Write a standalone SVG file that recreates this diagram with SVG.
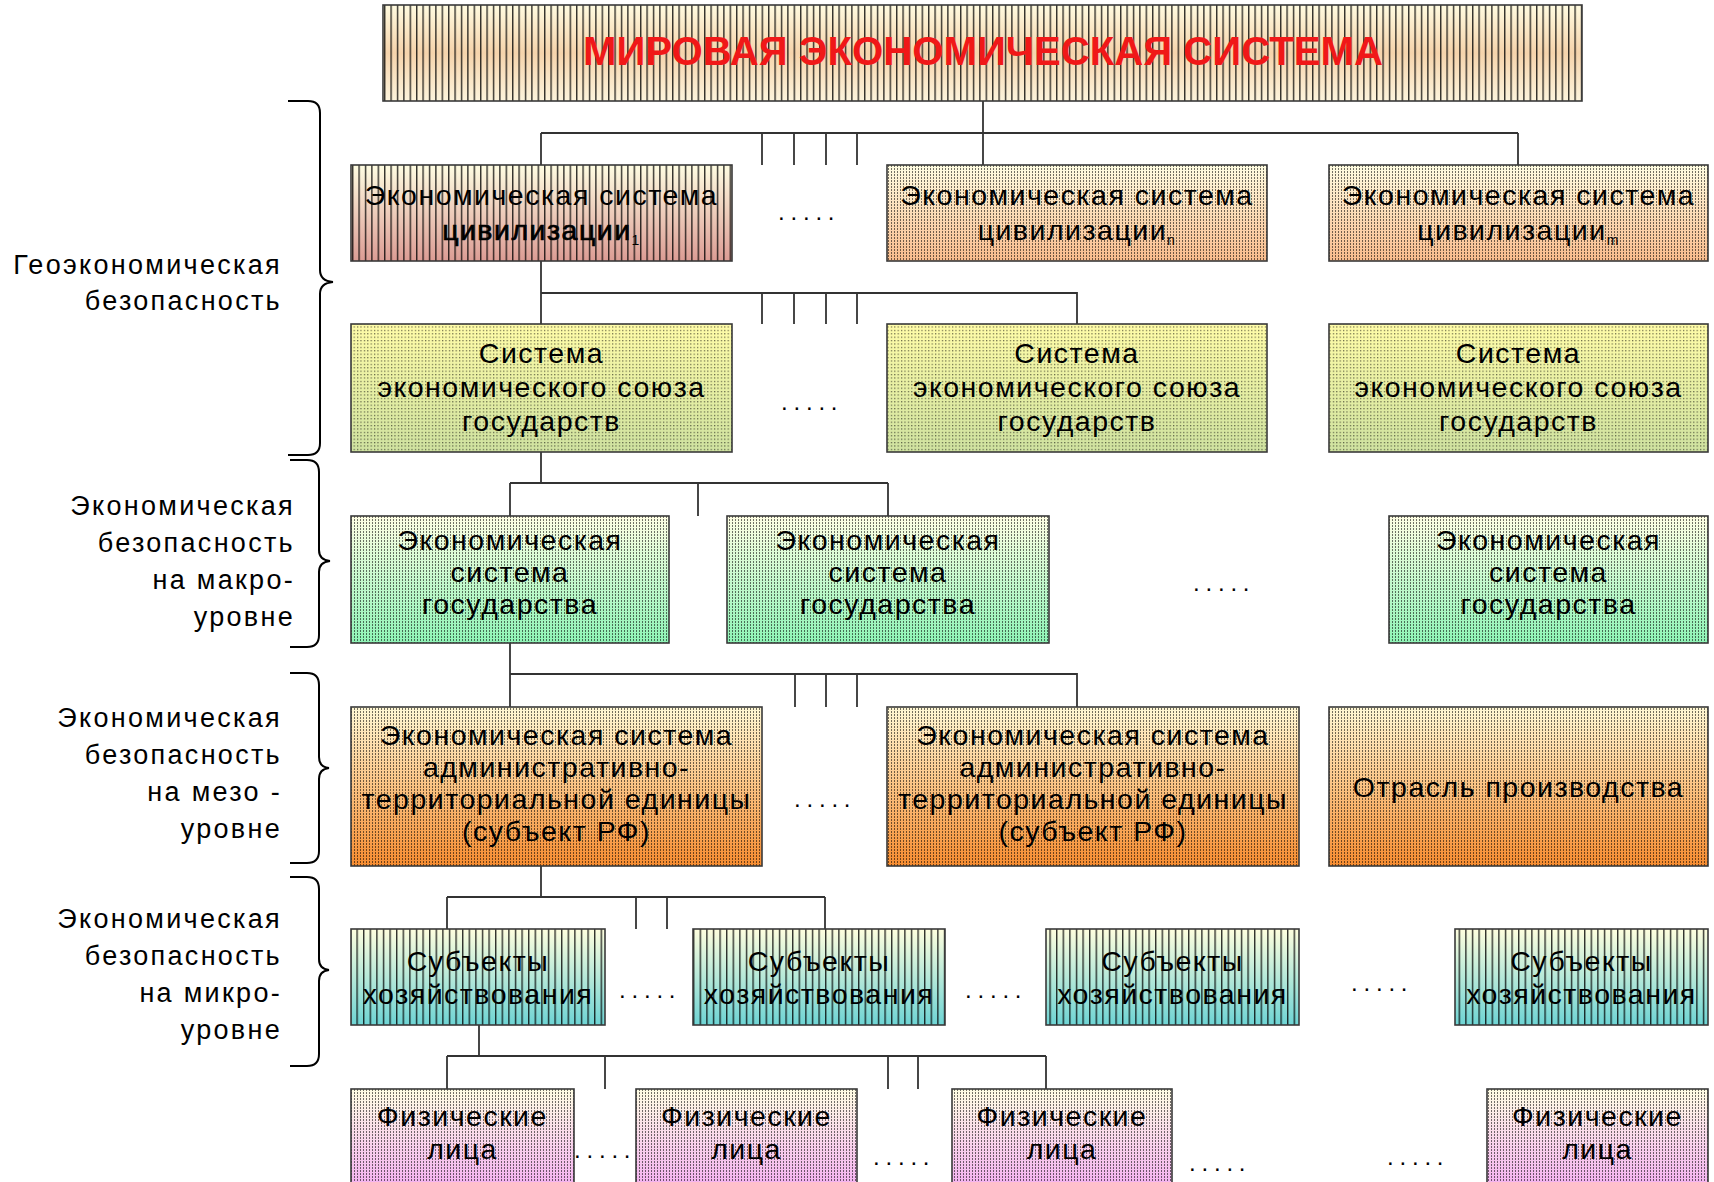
<svg xmlns="http://www.w3.org/2000/svg" width="1714" height="1182" viewBox="0 0 1714 1182">
<defs>
<style>
.bx{stroke:#3a3a3a;stroke-width:1.6}
.t{font-family:"Liberation Sans",Arial,sans-serif;font-size:28.5px;letter-spacing:1.5px;text-anchor:middle;fill:#000}
.lbl{font-family:"Liberation Sans",Arial,sans-serif;font-size:27px;letter-spacing:2.3px;text-anchor:end;fill:#000}
.dots{font-family:"Liberation Sans",Arial,sans-serif;font-size:24px;letter-spacing:5.8px;fill:#000}
.c{stroke:#333;stroke-width:1.8;fill:none}
.br{stroke:#000;stroke-width:2;fill:none}
</style>
<pattern id="pV" width="6.4" height="10" patternUnits="userSpaceOnUse"><rect x="0" y="0" width="1.4" height="10" fill="#000" fill-opacity="0.8"/></pattern>
<pattern id="pV2" width="6.6" height="10" patternUnits="userSpaceOnUse"><rect x="0" y="0" width="1.4" height="10" fill="#000" fill-opacity="0.8"/></pattern>
<pattern id="pF" width="3" height="3" patternUnits="userSpaceOnUse"><rect x="0" y="0" width="1" height="2" fill="#000" fill-opacity="0.55"/></pattern>
<pattern id="pD" width="3.4" height="3.4" patternUnits="userSpaceOnUse"><rect x="0" y="0" width="1.2" height="1.2" fill="#000" fill-opacity="0.6"/></pattern>
<linearGradient id="gTop" x1="0" y1="0" x2="0" y2="1"><stop offset="0" stop-color="#fffbe0"/><stop offset="0.5" stop-color="#f6d4ac"/><stop offset="1" stop-color="#fdf4dc"/></linearGradient>
<linearGradient id="gCiv1" x1="0" y1="0" x2="0" y2="1"><stop offset="0" stop-color="#fffde2"/><stop offset="1" stop-color="#dc9c94"/></linearGradient>
<linearGradient id="gCiv" x1="0" y1="0" x2="0" y2="1"><stop offset="0" stop-color="#fffde2"/><stop offset="1" stop-color="#f8bb8c"/></linearGradient>
<linearGradient id="gUni" x1="0" y1="0" x2="0" y2="1"><stop offset="0" stop-color="#fffca8"/><stop offset="1" stop-color="#cfe2a0"/></linearGradient>
<linearGradient id="gSt" x1="0" y1="0" x2="0" y2="1"><stop offset="0" stop-color="#fffee4"/><stop offset="1" stop-color="#8ef4b6"/></linearGradient>
<linearGradient id="gRg" x1="0" y1="0" x2="0" y2="1"><stop offset="0" stop-color="#fff8d4"/><stop offset="1" stop-color="#f68c30"/></linearGradient>
<linearGradient id="gSb" x1="0" y1="0" x2="0" y2="1"><stop offset="0" stop-color="#fffede"/><stop offset="1" stop-color="#6ed4d4"/></linearGradient>
<linearGradient id="gPh" x1="0" y1="0" x2="0" y2="1"><stop offset="0" stop-color="#fffee4"/><stop offset="1" stop-color="#f2a6f2"/></linearGradient>
</defs>
<rect width="1714" height="1182" fill="#fff"/>

<g id="connectors">
<path class="c" d="M983,101V165M541,133H1518M541,133V165M1518,133V165M762,133V165M794,133V165M826,133V165M857,133V165"/>
<path class="c" d="M541,261V324M541,293H1077V324M762,293V324M794,293V324M826,293V324M857,293V324"/>
<path class="c" d="M541,452V483M510,483H888M510,483V516M698,483V516M888,483V516"/>
<path class="c" d="M510,643V707M510,674H1077V707M795,674V707M826,674V707M857,674V707"/>
<path class="c" d="M541,866V897M447,897H825M447,897V929M636,897V929M667,897V929M825,897V929"/>
<path class="c" d="M479,1025V1056M447,1056H1046M447,1056V1089M605,1056V1089M888,1056V1089M918,1056V1089M1046,1056V1089"/>
</g>

<g id="braces">
<path class="br" d="M288,101H308Q320,101 320,113V270Q320,281 333,282Q320,283 320,294V443Q320,455 308,455H288"/>
<path class="br" d="M290,460H307Q319,460 319,472V550Q319,560 330,561Q319,562 319,572V635Q319,647 307,647H290"/>
<path class="br" d="M290,673H307Q319,673 319,685V757Q319,767 329,768Q319,769 319,779V851Q319,863 307,863H290"/>
<path class="br" d="M290,877H307Q319,877 319,889V959Q319,969 329,970Q319,971 319,981V1054Q319,1066 307,1066H290"/>
</g>

<g id="labels">
<text class="lbl" x="282" y="274">Геоэкономическая</text>
<text class="lbl" x="282" y="310">безопасность</text>
<text class="lbl" x="295" y="515">Экономическая</text>
<text class="lbl" x="295" y="552">безопасность</text>
<text class="lbl" x="295" y="589">на макро-</text>
<text class="lbl" x="295" y="626">уровне</text>
<text class="lbl" x="282" y="727">Экономическая</text>
<text class="lbl" x="282" y="764">безопасность</text>
<text class="lbl" x="282" y="801">на мезо -</text>
<text class="lbl" x="282" y="838">уровне</text>
<text class="lbl" x="282" y="928">Экономическая</text>
<text class="lbl" x="282" y="965">безопасность</text>
<text class="lbl" x="282" y="1002">на микро-</text>
<text class="lbl" x="282" y="1039">уровне</text>
</g>

<g id="n-world">
<rect x="383" y="5" width="1199" height="96" fill="url(#gTop)"/>
<rect class="bx" x="383" y="5" width="1199" height="96" fill="url(#pV)"/>
<text x="983" y="65" font-family="Liberation Sans, Arial, sans-serif" font-size="41" font-weight="bold" fill="#f01818" text-anchor="middle" textLength="800" lengthAdjust="spacingAndGlyphs">МИРОВАЯ ЭКОНОМИЧЕСКАЯ СИСТЕМА</text>
</g>

<g id="n-civ1">
<rect x="351" y="165" width="381" height="96" fill="url(#gCiv1)"/>
<rect class="bx" x="351" y="165" width="381" height="96" fill="url(#pV)"/>
<text class="t" x="541.5" y="205">Экономическая система</text>
<text class="t" x="541.5" y="240" stroke="#000" stroke-width="0.7">цивилизации<tspan font-size="14" dy="5" stroke="none">1</tspan></text>
</g>
<g id="n-civ2">
<rect x="887" y="165" width="380" height="96" fill="url(#gCiv)"/>
<rect class="bx" x="887" y="165" width="380" height="96" fill="url(#pF)"/>
<text class="t" x="1077" y="205">Экономическая система</text>
<text class="t" x="1077" y="240">цивилизации<tspan font-size="14" dy="5">n</tspan></text>
</g>
<g id="n-civ3">
<rect x="1329" y="165" width="379" height="96" fill="url(#gCiv)"/>
<rect class="bx" x="1329" y="165" width="379" height="96" fill="url(#pF)"/>
<text class="t" x="1518.5" y="205">Экономическая система</text>
<text class="t" x="1518.5" y="240">цивилизации<tspan font-size="14" dy="5">m</tspan></text>
</g>
<text class="dots" x="778" y="220">.....</text>

<g id="n-uni1">
<rect x="351" y="324" width="381" height="128" fill="url(#gUni)"/>
<rect class="bx" x="351" y="324" width="381" height="128" fill="url(#pD)"/>
<text class="t" x="541.5" y="363">Система</text>
<text class="t" x="541.5" y="397">экономического союза</text>
<text class="t" x="541.5" y="431">государств</text>
</g>
<g id="n-uni2">
<rect x="887" y="324" width="380" height="128" fill="url(#gUni)"/>
<rect class="bx" x="887" y="324" width="380" height="128" fill="url(#pD)"/>
<text class="t" x="1077" y="363">Система</text>
<text class="t" x="1077" y="397">экономического союза</text>
<text class="t" x="1077" y="431">государств</text>
</g>
<g id="n-uni3">
<rect x="1329" y="324" width="379" height="128" fill="url(#gUni)"/>
<rect class="bx" x="1329" y="324" width="379" height="128" fill="url(#pD)"/>
<text class="t" x="1518.5" y="363">Система</text>
<text class="t" x="1518.5" y="397">экономического союза</text>
<text class="t" x="1518.5" y="431">государств</text>
</g>
<text class="dots" x="781" y="410">.....</text>

<g id="n-st1">
<rect x="351" y="516" width="318" height="127" fill="url(#gSt)"/>
<rect class="bx" x="351" y="516" width="318" height="127" fill="url(#pF)"/>
<text class="t" x="510" y="550">Экономическая</text>
<text class="t" x="510" y="582">система</text>
<text class="t" x="510" y="614">государства</text>
</g>
<g id="n-st2">
<rect x="727" y="516" width="322" height="127" fill="url(#gSt)"/>
<rect class="bx" x="727" y="516" width="322" height="127" fill="url(#pF)"/>
<text class="t" x="888" y="550">Экономическая</text>
<text class="t" x="888" y="582">система</text>
<text class="t" x="888" y="614">государства</text>
</g>
<g id="n-st3">
<rect x="1389" y="516" width="319" height="127" fill="url(#gSt)"/>
<rect class="bx" x="1389" y="516" width="319" height="127" fill="url(#pF)"/>
<text class="t" x="1548.5" y="550">Экономическая</text>
<text class="t" x="1548.5" y="582">система</text>
<text class="t" x="1548.5" y="614">государства</text>
</g>
<text class="dots" x="1193" y="591">.....</text>

<g id="n-reg1">
<rect x="351" y="707" width="411" height="159" fill="url(#gRg)"/>
<rect class="bx" x="351" y="707" width="411" height="159" fill="url(#pF)"/>
<text class="t" x="556.5" y="745">Экономическая система</text>
<text class="t" x="556.5" y="777">административно-</text>
<text class="t" x="556.5" y="809">территориальной единицы</text>
<text class="t" x="556.5" y="841">(субъект РФ)</text>
</g>
<g id="n-reg2">
<rect x="887" y="707" width="412" height="159" fill="url(#gRg)"/>
<rect class="bx" x="887" y="707" width="412" height="159" fill="url(#pF)"/>
<text class="t" x="1093" y="745">Экономическая система</text>
<text class="t" x="1093" y="777">административно-</text>
<text class="t" x="1093" y="809">территориальной единицы</text>
<text class="t" x="1093" y="841">(субъект РФ)</text>
</g>
<g id="n-ind">
<rect x="1329" y="707" width="379" height="159" fill="url(#gRg)"/>
<rect class="bx" x="1329" y="707" width="379" height="159" fill="url(#pF)"/>
<text class="t" x="1518.5" y="797">Отрасль производства</text>
</g>
<text class="dots" x="794" y="807">.....</text>

<g id="n-sb1">
<rect x="351" y="929" width="254" height="96" fill="url(#gSb)"/>
<rect class="bx" x="351" y="929" width="254" height="96" fill="url(#pV2)"/>
<text class="t" x="478" y="971">Субъекты</text>
<text class="t" x="478" y="1004">хозяйствования</text>
</g>
<g id="n-sb2">
<rect x="693" y="929" width="252" height="96" fill="url(#gSb)"/>
<rect class="bx" x="693" y="929" width="252" height="96" fill="url(#pV2)"/>
<text class="t" x="819" y="971">Субъекты</text>
<text class="t" x="819" y="1004">хозяйствования</text>
</g>
<g id="n-sb3">
<rect x="1046" y="929" width="253" height="96" fill="url(#gSb)"/>
<rect class="bx" x="1046" y="929" width="253" height="96" fill="url(#pV2)"/>
<text class="t" x="1172.5" y="971">Субъекты</text>
<text class="t" x="1172.5" y="1004">хозяйствования</text>
</g>
<g id="n-sb4">
<rect x="1455" y="929" width="253" height="96" fill="url(#gSb)"/>
<rect class="bx" x="1455" y="929" width="253" height="96" fill="url(#pV2)"/>
<text class="t" x="1581.5" y="971">Субъекты</text>
<text class="t" x="1581.5" y="1004">хозяйствования</text>
</g>
<text class="dots" x="619" y="998">.....</text>
<text class="dots" x="965" y="998">.....</text>
<text class="dots" x="1351" y="991">.....</text>

<g id="n-ph1">
<rect x="351" y="1089" width="223" height="110" fill="url(#gPh)"/>
<rect class="bx" x="351" y="1089" width="223" height="110" fill="url(#pF)"/>
<text class="t" x="462.5" y="1126">Физические</text>
<text class="t" x="462.5" y="1159">лица</text>
</g>
<g id="n-ph2">
<rect x="636" y="1089" width="221" height="110" fill="url(#gPh)"/>
<rect class="bx" x="636" y="1089" width="221" height="110" fill="url(#pF)"/>
<text class="t" x="746.5" y="1126">Физические</text>
<text class="t" x="746.5" y="1159">лица</text>
</g>
<g id="n-ph3">
<rect x="952" y="1089" width="220" height="110" fill="url(#gPh)"/>
<rect class="bx" x="952" y="1089" width="220" height="110" fill="url(#pF)"/>
<text class="t" x="1062" y="1126">Физические</text>
<text class="t" x="1062" y="1159">лица</text>
</g>
<g id="n-ph4">
<rect x="1487" y="1089" width="221" height="110" fill="url(#gPh)"/>
<rect class="bx" x="1487" y="1089" width="221" height="110" fill="url(#pF)"/>
<text class="t" x="1597.5" y="1126">Физические</text>
<text class="t" x="1597.5" y="1159">лица</text>
</g>
<text class="dots" x="574" y="1158">.....</text>
<text class="dots" x="873" y="1165">.....</text>
<text class="dots" x="1189" y="1171">.....</text>
<text class="dots" x="1387" y="1165">.....</text>
</svg>
